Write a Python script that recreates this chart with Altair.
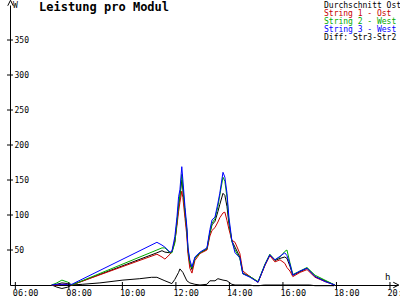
import altair as alt
import pandas as pd

# ---------------- data ----------------
hours = [7.36, 7.55, 7.74, 7.96, 8.11, 11.29, 11.48, 11.59, 11.78, 11.85,
         11.96, 12.04, 12.10, 12.15, 12.22, 12.26, 12.34, 12.41, 12.45, 12.52,
         12.60, 12.71, 12.90, 13.16, 13.27, 13.35, 13.46, 13.57, 13.64, 13.76,
         13.83, 13.91, 13.98, 14.09, 14.21, 14.39, 14.50, 14.77, 15.07, 15.33,
         15.51, 15.70, 15.89, 16.07, 16.15, 16.26, 16.37, 16.64, 16.90, 17.20,
         17.57, 17.94]

str3_west = [0, 1, 1, 1, 1, 61, 57, 54, 47, 48,
             69, 97, 126, 136, 169, 150, 111, 83, 54, 36,
             26, 40, 47, 53, 79, 93, 97, 117, 131, 161,
             154, 131, 97, 64, 46, 39, 16, 11, 4, 29,
             43, 36, 41, 46, 42, 30, 14, 20, 24, 12,
             5, 0]

str2_west = [0, 3, 7, 4, 0, 50, 53, 53, 46, 46,
             60, 90, 115, 128, 158, 140, 105, 78, 52, 32,
             24, 38, 46, 52, 75, 88, 95, 112, 128, 154,
             148, 125, 92, 62, 50, 38, 16, 12, 5, 30,
             44, 36, 40, 48, 50, 32, 15, 20, 25, 14,
             7, 0]

str1_ost = [0, 0, 1, 1, 0, 44, 40, 37, 44, 48,
            62, 85, 105, 118, 134, 125, 95, 70, 45, 24,
            17, 35, 45, 50, 70, 78, 82, 90, 96, 103,
            104, 92, 80, 64, 61, 45, 20, 12, 4, 28,
            42, 33, 36, 31, 25, 20, 12, 18, 22, 11,
            5, 0]

durchschnitt = [0, 1, 3, 2, 0, 46, 49, 47, 46, 47,
                63, 90, 113, 126, 150, 137, 103, 77, 50, 30,
                22, 38, 46, 51, 74, 86, 91, 105, 115, 131,
                128, 112, 88, 63, 54, 40, 17, 12, 4, 29,
                43, 35, 38, 40, 38, 27, 14, 19, 24, 12,
                6, 0]

diff_hours = [7.36, 7.55, 7.74, 7.96, 8.11, 8.50, 9.16, 10.02, 10.65, 11.09,
              11.29, 11.59, 11.85, 11.96, 12.10, 12.15, 12.26, 12.41, 12.52, 12.71,
              12.90, 13.16, 13.27, 13.46, 13.57, 13.76, 13.91, 14.09, 14.21, 14.50,
              14.77, 14.90, 15.10, 15.30, 15.90, 16.15, 17.00, 17.20, 17.90, 17.94]
diff_vals = [0, -3, -5, -3, 0, 1, 3, 7, 9, 11,
             11, 6, 2, 8, 18, 23, 18, 6, 3, 1,
             0, 1, 6, 6, 9, 7, 6, 1, 0, 0,
             0, -1, -1, 0, 0, 0, 0, -1, -1, 0]

x_ticks = [6, 8, 10, 12, 14, 16, 18, 20]
y_ticks = [50, 100, 150, 200, 250, 300, 350]

legend_labels = ["Durchschnitt Ost", "String 1 - Ost", "String 2 - West",
                 "String 3 - West", "Diff: Str3-Str2"]
legend_colors = ["#000000", "#c80000", "#00aa00", "#0000ff", "#000000"]

title_text = "Leistung pro Modul"
y_unit = "W"
x_unit = "h"

# ---------------- chart ----------------
W, H = 388, 280
FONT = "DejaVu Sans Mono"

xs = alt.Scale(domain=[5.8, 20.3], nice=False, zero=False)
ys = alt.Scale(domain=[0, 400], nice=False)

xa = alt.Axis(values=x_ticks, title=None, grid=False, ticks=False, tickSize=0,
              labelExpr="(datum.value < 10 ? '0' : '') + datum.value + ':00'",
              labelAlign="left", labelOffset=-3, labelBaseline="top",
              labelPadding=3, labelFlush=False, labelOverlap=False, labelBound=False,
              labelFont=FONT, labelFontSize=8.5, labelColor="black",
              domainColor="black", domainWidth=1)
ya = alt.Axis(values=y_ticks, title=None, grid=False, ticks=False, tickSize=0,
              labelAlign="left", labelBaseline="middle", labelPadding=-4,
              labelFlush=False, labelOverlap=False, labelBound=False,
              labelFont=FONT, labelFontSize=8, labelColor="black",
              domainColor="black", domainWidth=1)


def line(hs, vals, color):
    df = pd.DataFrame({"h": hs, "w": vals})
    return alt.Chart(df).mark_line(color=color, strokeWidth=1, interpolate="linear").encode(
        x=alt.X("h:Q", scale=xs, axis=xa),
        y=alt.Y("w:Q", scale=ys, axis=ya),
    )


layers = [
    line(diff_hours, diff_vals, "#000000"),
    line(hours, durchschnitt, "#000000"),
    line(hours, str1_ost, legend_colors[1]),
    line(hours, str2_west, legend_colors[2]),
    line(hours, str3_west, legend_colors[3]),
]

# crossing tick marks
xt = alt.Chart(pd.DataFrame({"h": x_ticks})).mark_rule(color="black", strokeWidth=1).encode(
    x=alt.X("h:Q", scale=xs, axis=xa), y=alt.value(277), y2=alt.value(284))
yt = alt.Chart(pd.DataFrame({"w": y_ticks})).mark_rule(color="black", strokeWidth=1).encode(
    y=alt.Y("w:Q", scale=ys, axis=ya), x=alt.value(-3), x2=alt.value(3))
layers += [xt, yt]

# axis arrows
up_arrow = alt.Chart(pd.DataFrame({"a": [0]})).mark_point(
    shape="M-1,1L0,-1L1,1", size=30, filled=False, stroke="black", strokeWidth=1, opacity=1
).encode(x=alt.value(0.5), y=alt.value(-2))
right_arrow = alt.Chart(pd.DataFrame({"a": [0]})).mark_point(
    shape="M-1,-1L1,0L-1,1", size=30, filled=False, stroke="black", strokeWidth=1, opacity=1
).encode(x=alt.value(386), y=alt.value(280))
layers += [up_arrow, right_arrow]

# texts
def txt(s, x, y, size=8, color="black", weight="normal", baseline="alphabetic"):
    return alt.Chart(pd.DataFrame({"t": [s]})).mark_text(
        font=FONT, fontSize=size, color=color, fontWeight=weight,
        align="left", baseline=baseline
    ).encode(text="t:N", x=alt.value(x), y=alt.value(y))

layers.append(txt(title_text, 29, 6, size=12, weight="bold"))
layers.append(txt(y_unit, 3, 2.5, size=8))
layers.append(txt(x_unit, 375, 275, size=9))
for i, (lab, col) in enumerate(zip(legend_labels, legend_colors)):
    layers.append(txt(lab, 314, 2.8 + i * 8.0, size=8, color=col))

chart = alt.layer(*layers).properties(
    width=W, height=H,
    autosize=alt.AutoSizeParams(type="none"),
    padding={"left": 10, "top": 5, "right": 2, "bottom": 15},
    background="white",
).configure_view(stroke=None)

chart.save("out.html", embed_options={"renderer": "svg", "actions": False})
